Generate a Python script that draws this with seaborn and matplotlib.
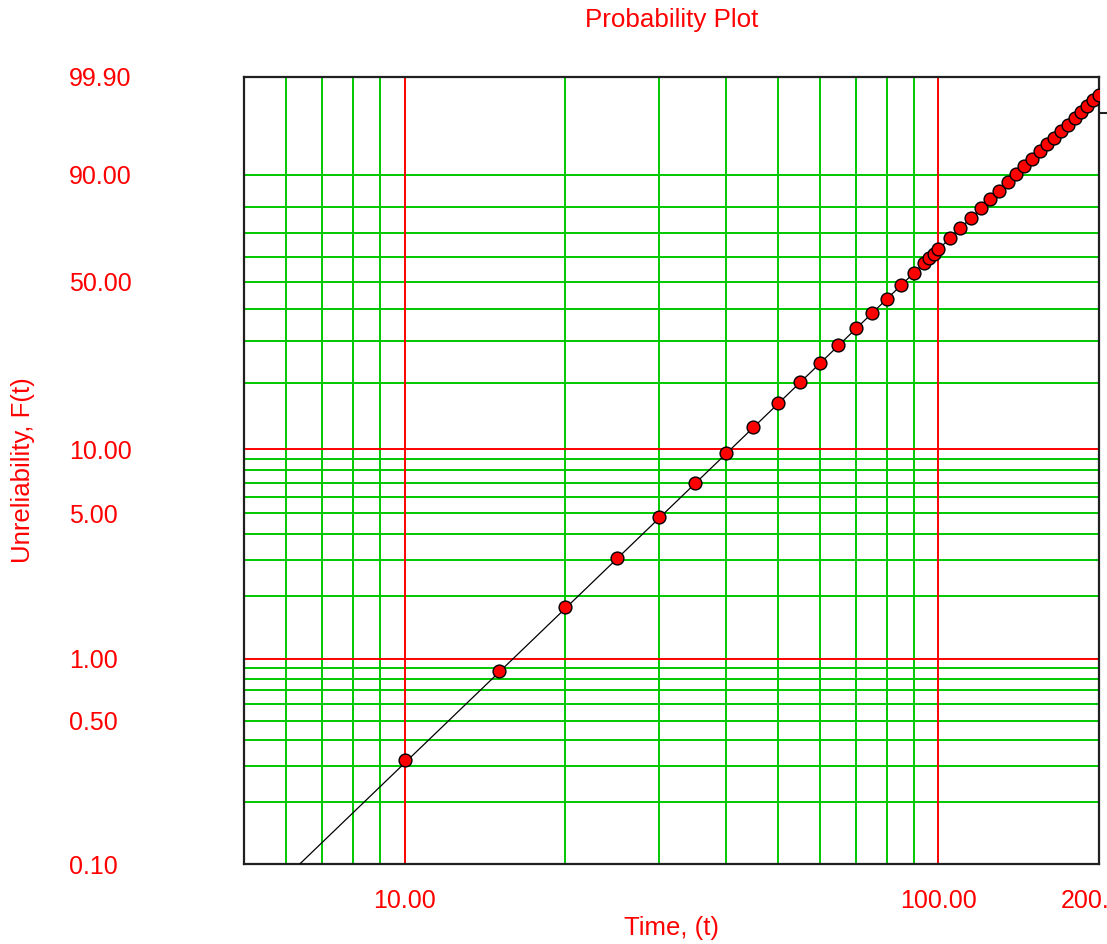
import numpy as np
import pandas as pd
import seaborn as sns
import matplotlib
matplotlib.use("Agg")
import matplotlib.pyplot as plt
from matplotlib.ticker import FixedLocator, FixedFormatter, NullLocator

# ---------------- data ----------------
time_pts = [10, 15, 20, 25, 30, 35, 40, 45, 50, 55, 60, 65, 70, 75, 80, 85, 90,
            94, 96, 98, 100, 105, 110, 115, 120, 125, 130, 135, 140, 145, 150,
            155, 160, 165, 170, 175, 180, 185, 190, 195, 200]
unrel_pct = [0.32, 0.87, 1.77, 3.08, 4.81, 6.99, 9.62, 12.70, 16.20, 20.09, 24.34,
             28.87, 33.63, 38.56, 43.58, 48.63, 53.63, 57.54, 59.47, 61.35, 63.21,
             67.69, 71.89, 75.79, 79.35, 82.57, 85.45, 87.97, 90.17, 92.05, 93.64,
             94.98, 96.08, 96.97, 97.69, 98.26, 98.71, 99.05, 99.31, 99.51, 99.65]

fit_time = [6.36, 200]
fit_unrel = [0.10, 99.65]

x_ticks = [5, 10, 50, 100, 200]
x_tick_labels = ["", "10.00", "", "100.00", "200.00"]
y_ticks = [0.1, 0.5, 1, 5, 10, 50, 90, 99.9]
y_tick_labels = ["0.10", "0.50", "1.00", "5.00", "10.00", "50.00", "90.00", "99.90"]
y_right_ticks = [99]

x_grid_green = [6, 7, 8, 9, 20, 30, 40, 50, 60, 70, 80, 90]
x_grid_red = [10, 100]
y_grid_green = [0.2, 0.3, 0.4, 0.5, 0.6, 0.7, 0.8, 0.9,
                2, 3, 4, 5, 6, 7, 8, 9,
                20, 30, 40, 50, 60, 70, 80, 90]
y_grid_red = [1, 10]

title_text = "Probability Plot"
x_label = "Time, (t)"
y_label = "Unreliability, F(t)"

# ---------------- style ----------------
RED = "#ff0000"
GREEN = "#00c800"
sns.set_style("white")
plt.rcParams["font.family"] = ["Liberation Sans", "DejaVu Sans"]

W, H = 1107, 944
fig = plt.figure(figsize=(W / 100, H / 100), dpi=100)
L, R, T, B = 244, 1099, 77, 864
ax = fig.add_axes([L / W, (H - B) / H, (R - L) / W, (B - T) / H])


def weib_fwd(F):
    F = np.clip(np.asarray(F, dtype=float), 1e-9, 100 - 1e-9)
    return np.log(-np.log(1.0 - F / 100.0))


def weib_inv(y):
    return 100.0 * (1.0 - np.exp(-np.exp(np.asarray(y, dtype=float))))


ax.set_xscale("log")
ax.set_yscale("function", functions=(weib_fwd, weib_inv))

# grid lines
for v in x_grid_green:
    ax.axvline(v, color=GREEN, lw=1.4, zorder=1)
for v in y_grid_green:
    ax.axhline(v, color=GREEN, lw=1.4, zorder=1)
for v in x_grid_red:
    ax.axvline(v, color=RED, lw=1.4, zorder=1.5)
for v in y_grid_red:
    ax.axhline(v, color=RED, lw=1.4, zorder=1.5)

fit_df = pd.DataFrame({"t": fit_time, "F": fit_unrel})
pts_df = pd.DataFrame({"t": time_pts, "F": unrel_pct})
sns.lineplot(data=fit_df, x="t", y="F", color="black", lw=0.9, ax=ax, zorder=3)
sns.scatterplot(data=pts_df, x="t", y="F", color=RED, edgecolor="black",
                linewidth=1.0, s=85, ax=ax, zorder=4)

ax.set_xlim(5, 200)
ax.set_ylim(0.1, 99.9)

for s in ax.spines.values():
    s.set_visible(True)
    s.set_color("#202020")
    s.set_linewidth(1.6)

ax.xaxis.set_major_locator(FixedLocator(x_ticks))
ax.xaxis.set_major_formatter(FixedFormatter(x_tick_labels))
ax.xaxis.set_minor_locator(NullLocator())
ax.yaxis.set_major_locator(FixedLocator(y_ticks))
ax.yaxis.set_major_formatter(FixedFormatter(y_tick_labels))
ax.yaxis.set_minor_locator(FixedLocator(y_right_ticks))

ax.tick_params(axis="both", which="major", direction="out", length=10, width=1.5,
               labelsize=18, labelcolor=RED, color="#202020")
ax.tick_params(axis="x", which="major", pad=8)
ax.tick_params(axis="y", which="major", pad=116)
ax.tick_params(axis="y", which="minor", left=False, right=True, direction="out",
               length=6, width=1.5, color="#202020", labelright=False)


def tick_color(v, red_list, green_list):
    if v in red_list:
        return RED
    if v in green_list:
        return GREEN
    return "#202020"


for v, tk in zip(x_ticks, ax.xaxis.get_major_ticks()):
    c = tick_color(v, x_grid_red, x_grid_green)
    tk.tick1line.set_color(c)
    if c == GREEN:
        tk.tick1line.set_markersize(6)
for v, tk in zip(y_ticks, ax.yaxis.get_major_ticks()):
    c = tick_color(v, y_grid_red, y_grid_green)
    tk.tick1line.set_color(c)
    if c == GREEN:
        tk.tick1line.set_markersize(6.5)
    tk.label1.set_horizontalalignment("left")

ax.set_xlabel(x_label, color=RED, fontsize=18.5, va="center")
ax.xaxis.set_label_coords(0.5, (B - 928) / (B - T))
ax.set_ylabel(y_label, color=RED, fontsize=18.5, va="center")
ax.yaxis.set_label_coords((23 - L) / (R - L), 0.5)
ax.set_title(title_text, color=RED, fontsize=18.7, pad=36)

fig.savefig("out.png", dpi=100, facecolor="white")
